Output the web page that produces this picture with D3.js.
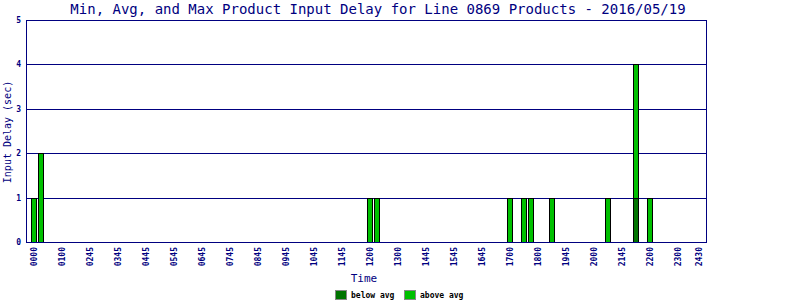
<!DOCTYPE html>
<html>
<head>
<meta charset="utf-8">
<script src="https://cdn.jsdelivr.net/npm/d3@7"></script>
<style>
  body { margin: 0; background: #fff; }
  svg { display: block; }
</style>
</head>
<body>
<div id="chart"></div>
<script>
// time slots on the x axis (96 of them), only some are labelled
const slotCount = 96;
const tickLabels = ["0000","0100","0245","0345","0445","0545","0645","0745","0845","0945",
  "1045","1145","1200","1300","1445","1545","1645","1700","1800","1945",
  "2000","2145","2200","2300","2430"];

// bars: slot index, below-avg part, above-avg part (sec)
const barSlots = [0, 1, 48, 49, 68, 70, 71, 74, 82, 86, 88];
const belowAvg = [0, 0, 0, 0, 0, 0, 0, 0, 0, 1, 0];
const aboveAvg = [1, 2, 1, 1, 1, 1, 1, 1, 1, 3, 1];

const yTicks = [0, 1, 2, 3, 4, 5];
const legendItems = ["below avg", "above avg"];
const colors = { below: "#007400", above: "#00c000" };
const navy = "#000080";

const width = 800, height = 300;
const plot = { left: 26, right: 706, top: 20, bottom: 242 };

const svg = d3.select("#chart").append("svg")
  .attr("width", width)
  .attr("height", height);

svg.append("rect").attr("width", width).attr("height", height).attr("fill", "#fff");

const x = d3.scaleBand()
  .domain(d3.range(slotCount))
  .range([30.5, 702.5])
  .paddingInner(0.2)
  .paddingOuter(0.1);

const y = d3.scaleLinear()
  .domain([0, 5])
  .range([plot.bottom, plot.top]);

// title
svg.append("text")
  .attr("x", 378).attr("y", 14)
  .attr("text-anchor", "middle")
  .attr("font-family", "DejaVu Sans Mono, monospace")
  .attr("font-size", 14)
  .attr("fill", navy)
  .text("Min, Avg, and Max Product Input Delay for Line 0869 Products - 2016/05/19");

// gridlines
svg.append("g").selectAll("line")
  .data(yTicks.filter(d => d > 0 && d < 5))
  .enter().append("line")
  .attr("x1", plot.left).attr("x2", plot.right)
  .attr("y1", d => Math.round(y(d)) + 0.5)
  .attr("y2", d => Math.round(y(d)) + 0.5)
  .attr("stroke", navy);

// bars
const bars = svg.append("g");
barSlots.forEach((s, i) => {
  const b = belowAvg[i], a = aboveAvg[i];
  if (b > 0) {
    bars.append("rect")
      .attr("x", Math.round(x(s)) + 0.5)
      .attr("y", Math.round(y(b)) + 0.5)
      .attr("width", Math.round(x.bandwidth()) - 1)
      .attr("height", Math.round(y(0)) - Math.round(y(b)))
      .attr("fill", colors.below)
      .attr("stroke", "#000");
  }
  bars.append("rect")
    .attr("x", Math.round(x(s)) + 0.5)
    .attr("y", Math.round(y(b + a)) + 0.5)
    .attr("width", Math.round(x.bandwidth()) - 1)
    .attr("height", Math.round(y(b)) - Math.round(y(b + a)))
    .attr("fill", colors.above)
    .attr("stroke", "#000");
});

// frame
svg.append("rect")
  .attr("x", plot.left + 0.5).attr("y", plot.top + 0.5)
  .attr("width", plot.right - plot.left)
  .attr("height", plot.bottom - plot.top)
  .attr("fill", "none")
  .attr("stroke", navy);

// y tick labels
svg.append("g").selectAll("text")
  .data(yTicks)
  .enter().append("text")
  .attr("x", 21)
  .attr("y", d => y(d) + 3)
  .attr("text-anchor", "end")
  .attr("font-family", "DejaVu Sans Mono, monospace")
  .attr("font-size", 8)
  .attr("font-weight", "bold")
  .attr("fill", navy)
  .text(d => d);

// x tick labels (every 4th slot plus the last one)
const tickSlots = tickLabels.map((t, i) => i < tickLabels.length - 1 ? i * 4 : slotCount - 1);
svg.append("g").selectAll("text")
  .data(tickLabels)
  .enter().append("text")
  .attr("transform", (d, i) => "translate(" + (x(tickSlots[i]) + x.bandwidth() / 2 + 3) + ",247) rotate(-90)")
  .attr("text-anchor", "end")
  .attr("font-family", "DejaVu Sans Mono, monospace")
  .attr("font-size", 8)
  .attr("font-weight", "bold")
  .attr("fill", navy)
  .text(d => d);

// axis titles
svg.append("text")
  .attr("x", 364).attr("y", 282)
  .attr("text-anchor", "middle")
  .attr("font-family", "DejaVu Sans Mono, monospace")
  .attr("font-size", 11)
  .attr("fill", navy)
  .text("Time");

svg.append("text")
  .attr("transform", "translate(11,132) rotate(-90)")
  .attr("text-anchor", "middle")
  .attr("font-family", "DejaVu Sans Mono, monospace")
  .attr("font-size", 10)
  .attr("fill", navy)
  .text("Input Delay (sec)");

// legend
const legend = svg.append("g");
const legendX = [335, 404];
legendItems.forEach((name, i) => {
  legend.append("rect")
    .attr("x", legendX[i] + 0.5).attr("y", 290.5)
    .attr("width", 11).attr("height", 9)
    .attr("fill", i === 0 ? colors.below : colors.above)
    .attr("stroke", "#888");
  legend.append("text")
    .attr("x", legendX[i] + 16).attr("y", 298)
    .attr("font-family", "DejaVu Sans Mono, monospace")
    .attr("font-size", 8)
    .attr("font-weight", "bold")
    .attr("fill", "#000")
    .text(name);
});
</script>
</body>
</html>
